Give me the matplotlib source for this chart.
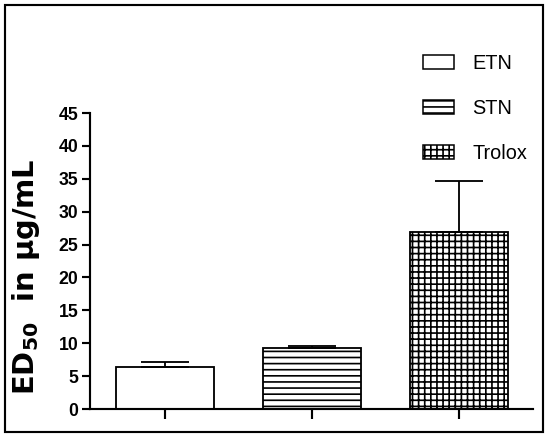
import matplotlib
matplotlib.use("Agg")
import matplotlib.pyplot as plt
from matplotlib.patches import Rectangle, Patch

categories = ["ETN", "STN", "Trolox"]
values = [6.4, 9.2, 26.9]
errors = [0.8, 0.4, 7.7]
hatches = ["", "---", "+++"]
yticks = [0, 5, 10, 15, 20, 25, 30, 35, 40, 45]

plt.rcParams["font.family"] = ["Liberation Sans", "DejaVu Sans"]
plt.rcParams["hatch.linewidth"] = 1.1
plt.rcParams["mathtext.fontset"] = "custom"
plt.rcParams["mathtext.bf"] = "DejaVu Sans:bold"

DPI = 110
fig = plt.figure(figsize=(550 / DPI, 437 / DPI), dpi=DPI)
ax = fig.add_axes([90 / 550, 1 - 409 / 437, (533 - 90) / 550, (409 - 113) / 437])

x = list(range(len(categories)))
bars = ax.bar(x, values, width=0.667, color="white", edgecolor="black",
              linewidth=1.2, zorder=2)
for b, h in zip(bars, hatches):
    b.set_hatch(h)

ax.errorbar(x, values, yerr=[[0] * len(errors), errors], fmt="none",
            ecolor="black", elinewidth=1.2, capsize=16, capthick=1.2, zorder=3)

ax.set_xlim(-0.51, 2.503)
ax.set_ylim(0, 45)
ax.set_yticks(yticks)
ax.set_xticks(x)
ax.set_xticklabels([])
for s in ["top", "right"]:
    ax.spines[s].set_visible(False)
for s in ["left", "bottom"]:
    ax.spines[s].set_linewidth(1.4)
ax.tick_params(axis="y", direction="out", length=5.5, width=1.4, pad=2)
ax.tick_params(axis="x", direction="out", length=6.5, width=1.4)
for lab in ax.get_yticklabels():
    lab.set_fontweight("bold")
    lab.set_fontsize(11.5)

ax.set_ylabel(r"ED$_{\mathbf{50}}$  in µg/mL", fontsize=19, fontweight="bold",
              family="DejaVu Sans")
ax.yaxis.set_label_coords(-0.108, 0.446)

handles = [Patch(facecolor="white", edgecolor="black", hatch=h, linewidth=1.0)
           for h in hatches]
leg = fig.legend(handles, categories, loc="upper left",
                 bbox_to_anchor=(405 / 550, 1 - 36 / 437),
                 frameon=False, fontsize=13, handlelength=1.55,
                 handleheight=0.7, handletextpad=0.95, labelspacing=1.3)

fig.patches.append(Rectangle((5 / 550, 1 - 432 / 437), (543 - 5) / 550,
                             (432 - 5) / 437, transform=fig.transFigure,
                             fill=False, edgecolor="black", linewidth=1.4))

fig.savefig("out.png", dpi=DPI)
